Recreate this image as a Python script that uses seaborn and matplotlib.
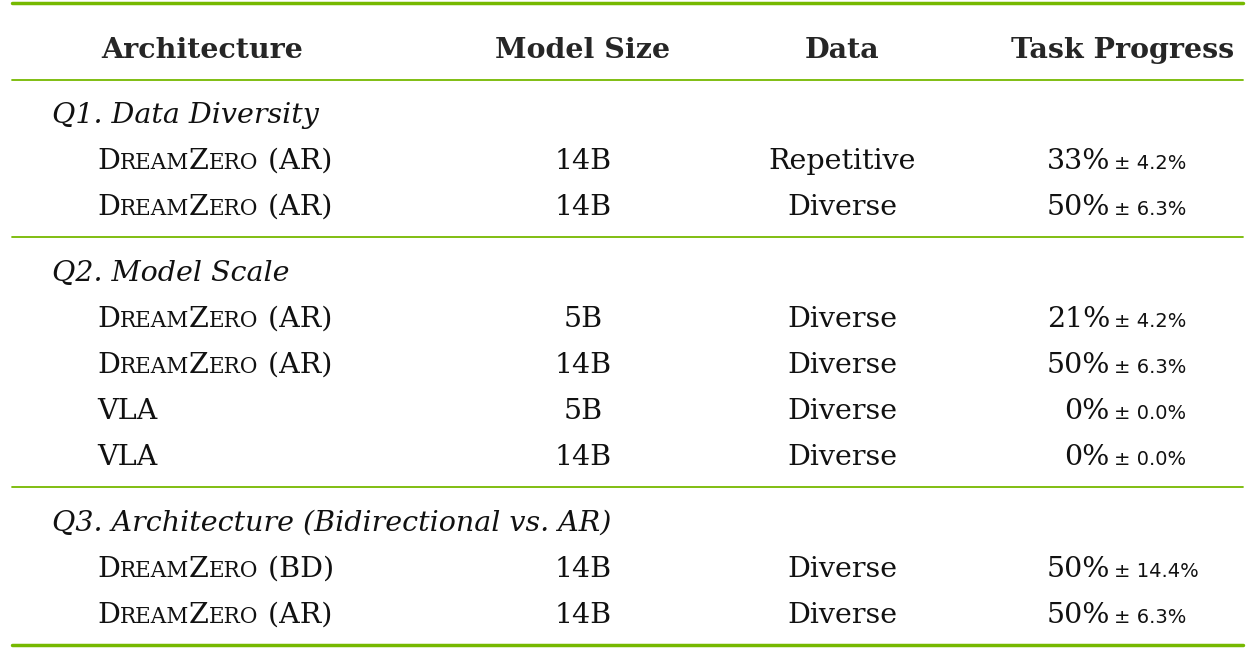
import matplotlib
matplotlib.use("Agg")
import matplotlib.pyplot as plt
import seaborn as sns

sns.set_theme(style="white")
plt.rcParams['font.family'] = ['DejaVu Serif']

headers = ["Architecture", "Model Size", "Data", "Task Progress"]
sections = ["Q1. Data Diversity", "Q2. Model Scale", "Q3. Architecture (Bidirectional vs. AR)"]
section_rows = [2, 4, 2]
arch = ["DZ (AR)", "DZ (AR)", "DZ (AR)", "DZ (AR)", "VLA", "VLA", "DZ (BD)", "DZ (AR)"]
sizes = ["14B", "14B", "5B", "14B", "5B", "14B", "14B", "14B"]
data = ["Repetitive", "Diverse", "Diverse", "Diverse", "Diverse", "Diverse", "Diverse", "Diverse"]
progress = [33, 50, 21, 50, 0, 0, 50, 50]
stderr = [4.2, 6.3, 4.2, 6.3, 0.0, 0.0, 14.4, 6.3]

W, H = 1253, 660
fig = plt.figure(figsize=(W/100, H/100), dpi=100)
fig.patch.set_facecolor("white")
GREEN = "#76b900"
BIG, SMALL, PM = 20.5, 15.5, 14

def P(x, y):
    return x / W, 1 - y / H

def txt(x, y, s, **kw):
    return fig.text(*P(x, y), s, va="baseline", **kw)

def hline(y, lw):
    fig.add_artist(plt.Line2D([12/W, 1243/W], [1-y/H]*2, color=GREEN, lw=lw))

renderer = fig.canvas.get_renderer()

def chain(x, y, pieces):
    for s, fs in pieces:
        t = txt(x, y, s, fontsize=fs, color="#111")
        x += t.get_window_extent(renderer).width

def dreamzero(x, y, suffix):
    chain(x, y, [("D", BIG), ("REAM", SMALL), ("Z", BIG), ("ERO", SMALL), (" " + suffix, BIG)])

hline(3, 2.5)
hb = 58
txt(202, hb, headers[0], fontsize=BIG, weight="bold", ha="center")
txt(583, hb, headers[1], fontsize=BIG, weight="bold", ha="center")
txt(842, hb, headers[2], fontsize=BIG, weight="bold", ha="center")
txt(1123, hb, headers[3], fontsize=BIG, weight="bold", ha="center")
hline(80, 1.3)

sec_y = [112, 270, 520]
sep_y = [237, 487]
i = 0
for si, (name, n) in enumerate(zip(sections, section_rows)):
    y0 = sec_y[si]
    txt(52, y0 + 11, name, fontsize=BIG, style="italic", color="#111")
    for k in range(n):
        yc = y0 + 46 * (k + 1)
        yb = yc + 11
        a = arch[i]
        if a.startswith("DZ"):
            dreamzero(97, yb, a.split(" ", 1)[1])
        else:
            txt(97, yb, a, fontsize=BIG, color="#111")
        txt(583, yb, sizes[i], fontsize=BIG, ha="center", color="#111")
        txt(842, yb, data[i], fontsize=BIG, ha="center", color="#111")
        txt(1110, yb, f"{progress[i]}%", fontsize=BIG, ha="right", color="#111")
        txt(1114, yb, f"\u00b1 {stderr[i]:.1f}%", fontsize=PM, ha="left", color="#111",
            family="DejaVu Sans")
        i += 1
    if si < len(sep_y):
        hline(sep_y[si], 1.3)
hline(645, 2.5)

fig.savefig("out.png", dpi=100, facecolor="white")
